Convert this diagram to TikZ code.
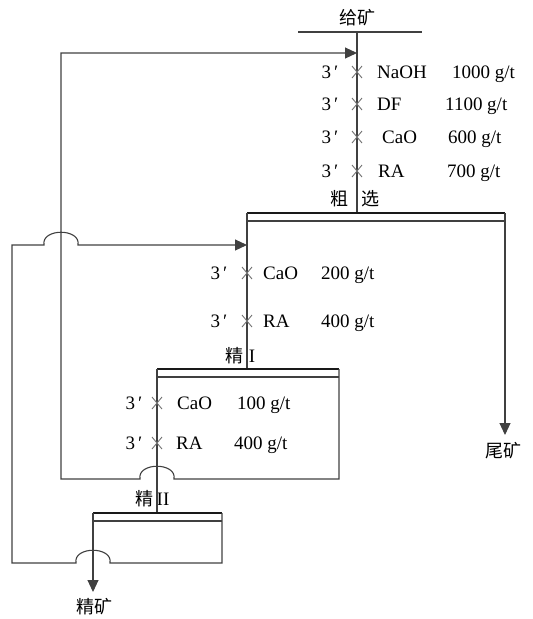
\documentclass[tikz,border=0pt]{standalone}
\usepackage{fontspec}
\setmainfont{Liberation Serif}
\newfontfamily\cjk{Noto Sans CJK SC}
\usetikzlibrary{arrows.meta,calc}
\begin{document}
\begin{tikzpicture}[x=1pt,y=-1pt,
  flow/.style={draw=black!75,line width=1.1pt},
  thickbar/.style={draw=black!90,line width=2.8pt},
  tipflow/.style={flow,-{Triangle[length=12pt,width=11pt]}},
  lab/.style={inner sep=0pt,font=\fontsize{19}{21}\selectfont},
  rl/.style={lab,anchor=base,yshift=-6.5pt},
  rw/.style={lab,anchor=base west,yshift=-6.5pt},
  cn/.style={inner sep=0pt,font=\cjk\fontsize{18}{20}\selectfont},
  xm/.style={draw=black!55,line width=0.9pt}]
\useasboundingbox (0,0) rectangle (533,619);
% ---------- key points
\coordinate (feedL) at (298,32);
\coordinate (feedR) at (422,32);
\coordinate (feedT) at (357,32);
\coordinate (roughT) at (357,213);
\coordinate (rgL) at (247,213);
\coordinate (rgR) at (505,213);
\coordinate (rgL2) at (247,221);
\coordinate (rgR2) at (505,221);
\coordinate (tailEnd) at (505,435);
\coordinate (c1L) at (157,369);
\coordinate (c1R) at (339,369);
\coordinate (c1L2) at (157,377);
\coordinate (c1R2) at (339,377);
\coordinate (c1mid) at (247,369);
\coordinate (c1BR) at (339,479);
\coordinate (c1BL) at (61,479);
\coordinate (rec1T) at (61,53);
\coordinate (rec1E) at (357,53);
\coordinate (h1) at (157,479);
\coordinate (c2L) at (93,513);
\coordinate (c2R) at (222,513);
\coordinate (c2L2) at (93,521);
\coordinate (c2R2) at (222,521);
\coordinate (c2mid) at (157,513);
\coordinate (c2BR) at (222,563);
\coordinate (c2BL) at (12,563);
\coordinate (h2) at (93,563);
\coordinate (rec2T) at (12,245);
\coordinate (h3) at (61,245);
\coordinate (rec2E) at (247,245);
\coordinate (concEnd) at (93,592);
% ---------- labels
\node[cn] (feed) at (357.5,18) {给矿};
\node[cn] (r1) at (339,199) {粗};
\node[cn] (r2) at (370,199) {选};
\node[cn] (k1a) at (234,356) {精};
\node[rl] (k1b) at (252,356) {I};
\node[cn] (k2a) at (144,499) {精};
\node[rl] (k2b) at (163,499) {II};
\node[cn] (tail) at (503,451) {尾矿};
\node[cn] (conc) at (94,607) {精矿};
% ---------- main lines
\draw[flow] (feedL) -- (feedR);
\draw[flow] (feedT) -- (roughT);
\draw[thickbar] (rgL) -- (rgR);
\draw[flow] (rgL2) -- (rgR2);
\draw[tipflow] (rgR) -- (tailEnd);
\draw[flow] (rgL) -- (c1mid);
\draw[thickbar] (c1L) -- (c1R);
\draw[flow] (c1L2) -- (c1R2);
\draw[flow] (c1L) -- (c2mid);
\draw[thickbar] (c2L) -- (c2R);
\draw[flow] (c2L2) -- (c2R2);
\draw[tipflow] (c2L) -- (concEnd);
% recycle of cleaner I tails to rougher feed
\draw[tipflow] (c1R) -- (c1BR) -- ($(h1)+(17,0)$)
  .. controls +(3,-17) and +(-3,-17) .. ($(h1)+(-17,0)$)
  -- (c1BL) -- (rec1T) -- (rec1E);
% recycle of cleaner II tails to cleaner I feed
\draw[tipflow] (c2R) -- (c2BR) -- ($(h2)+(17,0)$)
  .. controls +(3,-17) and +(-3,-17) .. ($(h2)+(-17,0)$)
  -- (c2BL) -- (rec2T) -- ($(h3)+(-17,0)$)
  .. controls +(-3,-17) and +(3,-17) .. ($(h3)+(17,0)$)
  -- (rec2E);
% ---------- reagent marks
\foreach \xx/\yy in {357/72,357/104,357/137,357/171,247/273,247/321,157/403,157/443}{
  \draw[xm] (\xx-5,\yy-6) -- (\xx+5,\yy+6) (\xx-5,\yy+6) -- (\xx+5,\yy-6);
}
% rougher feed reagents
\node[rl] (p1) at (330,72) {3\,′};
\node[rw] (n1) at (377,72) {NaOH};
\node[rw] (a1) at (452,72) {1000 g/t};
\node[rl] (p2) at (330,104) {3\,′};
\node[rw] (n2) at (377,104) {DF};
\node[rw] (a2) at (445,104) {1100 g/t};
\node[rl] (p3) at (330,137) {3\,′};
\node[rw] (n3) at (382,137) {CaO};
\node[rw] (a3) at (448,137) {600 g/t};
\node[rl] (p4) at (330,171) {3\,′};
\node[rw] (n4) at (378,171) {RA};
\node[rw] (a4) at (447,171) {700 g/t};
% cleaner I reagents
\node[rl] (p5) at (219,273) {3\,′};
\node[rw] (n5) at (263,273) {CaO};
\node[rw] (a5) at (321,273) {200 g/t};
\node[rl] (p6) at (219,321) {3\,′};
\node[rw] (n6) at (263,321) {RA};
\node[rw] (a6) at (321,321) {400 g/t};
% cleaner II reagents
\node[rl] (p7) at (134,403) {3\,′};
\node[rw] (n7) at (177,403) {CaO};
\node[rw] (a7) at (237,403) {100 g/t};
\node[rl] (p8) at (134,443) {3\,′};
\node[rw] (n8) at (176,443) {RA};
\node[rw] (a8) at (234,443) {400 g/t};
\end{tikzpicture}
\end{document}
